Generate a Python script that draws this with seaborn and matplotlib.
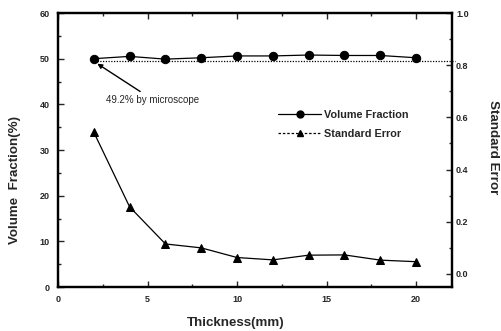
import matplotlib
matplotlib.use("Agg")
import matplotlib.pyplot as plt
import seaborn as sns
import pandas as pd
from matplotlib.lines import Line2D
from matplotlib.ticker import MultipleLocator

thickness = [2, 4, 6, 8, 10, 12, 14, 16, 18, 20]
volume_fraction = [50.0, 50.5, 49.9, 50.2, 50.6, 50.6, 50.8, 50.7, 50.7, 50.2]
standard_error = [0.543, 0.257, 0.115, 0.100, 0.063, 0.054, 0.072, 0.073, 0.053, 0.047]
microscope_value = 49.2

sns.set_theme(style="ticks")
plt.rcParams['font.family'] = ['Liberation Sans', 'DejaVu Sans']
plt.rcParams['font.weight'] = 'bold'

df = pd.DataFrame({"Thickness": thickness, "VF": volume_fraction, "SE": standard_error})

fig = plt.figure(figsize=(5.01, 3.31), dpi=100)
ax = fig.add_axes([0.1158, 0.1329, 0.902 - 0.1158, 0.9607 - 0.1329])
ax2 = ax.twinx()

sns.lineplot(data=df, x="Thickness", y="VF", ax=ax, color="black", marker="o",
             markersize=6, linewidth=0.9, markeredgecolor="black")
sns.lineplot(data=df, x="Thickness", y="SE", ax=ax2, color="black", marker="^",
             markersize=6, linewidth=0.9, markeredgecolor="black")

ax.plot([2.2, 22.2], [microscope_value + 0.2, microscope_value + 0.2], color="black",
        linestyle=(0, (1, 1.2)), linewidth=0.9, clip_on=False)

ax.set_xlim(0, 22)
ax.set_ylim(0, 60)
ax2.set_ylim(-0.05, 1.0)

ax.xaxis.set_major_locator(MultipleLocator(5))
ax.xaxis.set_minor_locator(MultipleLocator(2.5))
ax.yaxis.set_major_locator(MultipleLocator(10))
ax.yaxis.set_minor_locator(MultipleLocator(5))
ax2.yaxis.set_major_locator(MultipleLocator(0.2))
ax2.yaxis.set_minor_locator(MultipleLocator(0.1))

ax.tick_params(axis="both", which="both", direction="in", top=True, labelsize=6.5, width=1, pad=6)
ax.tick_params(axis="both", which="major", length=4)
ax.tick_params(axis="both", which="minor", length=2)
ax.tick_params(axis="y", right=False)
ax2.tick_params(axis="y", which="both", direction="in", labelsize=6.5, width=1, pad=3)
ax2.tick_params(axis="y", which="major", length=4)
ax2.tick_params(axis="y", which="minor", length=2)
ax2.set_yticks([0.0, 0.2, 0.4, 0.6, 0.8, 1.0])
ax2.set_yticklabels([f"{v:.1f}" for v in [0.0, 0.2, 0.4, 0.6, 0.8, 1.0]])

for a in (ax, ax2):
    for s in a.spines.values():
        s.set_visible(True)
        s.set_linewidth(1.6)
        s.set_color("black")

for lbl in ax.get_xticklabels() + ax.get_yticklabels() + ax2.get_yticklabels():
    lbl.set_fontweight("bold")

ax.set_xlabel("Thickness(mm)", fontsize=9.6, fontweight="bold")
ax.set_ylabel("Volume  Fraction(%)", fontsize=9.6, fontweight="bold")
ax2.set_ylabel("Standard Error", fontsize=9.6, fontweight="bold", rotation=-90)
ax.xaxis.set_label_coords(0.45, -0.11)
ax.yaxis.set_label_coords(-0.095, 0.39)
ax2.yaxis.set_label_coords(1.12, 0.51)

ax.annotate("49.2% by microscope", xy=(2.0, 49.4), xytext=(2.7, 41.0),
            fontsize=7, fontweight="normal", va="center", ha="left",
            arrowprops=dict(arrowstyle="-|>", color="black", lw=1.0, mutation_scale=7,
                            shrinkA=0, shrinkB=3))

handles = [
    Line2D([], [], color="black", marker="o", markersize=5, linewidth=0.9),
    Line2D([], [], color="black", marker="^", markersize=5, linewidth=0.9, linestyle=(0, (2, 1.5))),
]
ax.legend(handles, ["Volume Fraction", "Standard Error"], loc="upper left",
          bbox_to_anchor=(0.545, 0.665), frameon=False, fontsize=7.8, handlelength=4.0,
          handletextpad=0.2, labelspacing=0.8, borderpad=0)

fig.savefig("out.png", dpi=100)
